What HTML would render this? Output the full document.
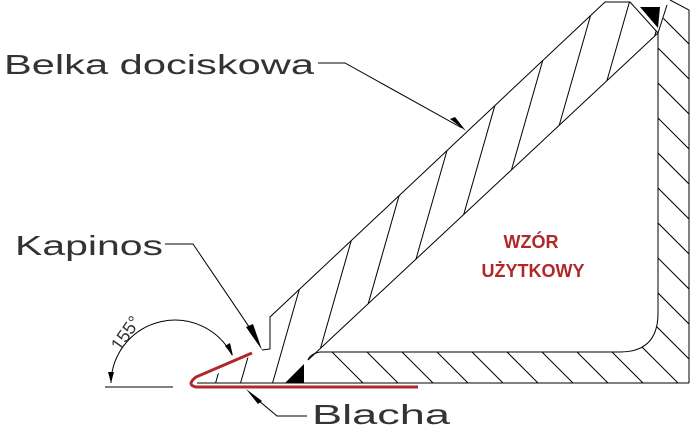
<!DOCTYPE html>
<html><head><style>
html,body{margin:0;padding:0;background:#fff;}
svg{display:block;}
text{font-family:"Liberation Sans",sans-serif;}
</style></head><body>
<svg width="690" height="426" viewBox="0 0 690 426" xmlns="http://www.w3.org/2000/svg">
<defs>
<clipPath id="beam"><polygon points="605,2 630,2 658,33 308,360 300,383 200,383 262,350 270,349 270,317"/></clipPath>
<clipPath id="ang"><path d="M658,33 L658,313 Q658,352 620,352 L320,352 Q310,354 308,360 L303,383 L689,383 L689,10 L670,0 Z"/></clipPath>
</defs>
<g stroke="#000" stroke-width="1" fill="none">
<g clip-path="url(#beam)">
<line x1="180" y1="420" x2="300" y2="0"/>
<line x1="205" y1="420" x2="325" y2="0"/>
<line x1="230" y1="420" x2="350" y2="0"/>
<line x1="262" y1="420" x2="382" y2="0"/>
<line x1="300" y1="420" x2="420" y2="0"/>
<line x1="335" y1="420" x2="455" y2="0"/>
<line x1="370" y1="420" x2="490" y2="0"/>
<line x1="405" y1="420" x2="525" y2="0"/>
<line x1="440" y1="420" x2="560" y2="0"/>
<line x1="475" y1="420" x2="595" y2="0"/>
<line x1="510" y1="420" x2="630" y2="0"/>
<line x1="545" y1="420" x2="665" y2="0"/>
<line x1="580" y1="420" x2="700" y2="0"/>
</g>
<g clip-path="url(#ang)">
<line x1="300" y1="320" x2="380" y2="400"/>
<line x1="335" y1="320" x2="415" y2="400"/>
<line x1="370" y1="320" x2="450" y2="400"/>
<line x1="405" y1="320" x2="485" y2="400"/>
<line x1="440" y1="320" x2="520" y2="400"/>
<line x1="475" y1="320" x2="555" y2="400"/>
<line x1="510" y1="320" x2="590" y2="400"/>
<line x1="545" y1="320" x2="625" y2="400"/>
<line x1="580" y1="320" x2="660" y2="400"/>
<line x1="615" y1="320" x2="695" y2="400"/>
<line x1="640" y1="310" x2="720" y2="390"/>
<line x1="640" y1="275" x2="720" y2="355"/>
<line x1="640" y1="240" x2="720" y2="320"/>
<line x1="640" y1="205" x2="720" y2="285"/>
<line x1="640" y1="170" x2="720" y2="250"/>
<line x1="640" y1="135" x2="720" y2="215"/>
<line x1="640" y1="100" x2="720" y2="180"/>
<line x1="640" y1="65" x2="720" y2="145"/>
<line x1="640" y1="30" x2="720" y2="110"/>
<line x1="640" y1="-5" x2="720" y2="75"/>
</g>
<polyline points="270,349 270,317 605,2 630,2 658,33 308,360"/>
<line x1="262" y1="350" x2="270" y2="349"/>
<path d="M658,33 L658,313 Q658,352 620,352 L320,352 Q310,354 308,360"/>
<line x1="197" y1="383" x2="689" y2="383"/>
<polyline points="689,383 689,10 670,0"/>
<line x1="658" y1="33" x2="667" y2="5"/>
<polyline points="318,63 345,63 462,128"/>
<polyline points="165,244 193,244 258,340"/>
<polyline points="307,416 277,416 252,395"/>
<line x1="105" y1="387" x2="173" y2="387"/>
<path d="M111,383 A64,64 0 0 1 232,355"/>
</g>
<polygon points="285,383 304,383 304,364" fill="#000"/>
<polygon points="640,7 660,7 658,28" fill="#000"/>
<polygon points="466,131 450,119 455,117" fill="#000"/>
<polygon points="262,350 246,327 253,324" fill="#000"/>
<polygon points="246,389 262,401 258,404" fill="#000"/>
<polygon points="111,383 108,372 114,372" fill="#000"/>
<polygon points="233,356 225,346 230,343" fill="#000"/>
<path d="M252,353 L196,377 Q186,385 196,387 L418,387" stroke="#b0282a" stroke-width="3" fill="none"/>
<g fill="#333" font-size="28">
<text x="4" y="74" textLength="310" lengthAdjust="spacingAndGlyphs">Belka dociskowa</text>
<text x="15" y="255" textLength="148" lengthAdjust="spacingAndGlyphs">Kapinos</text>
<text x="312" y="424" textLength="138" lengthAdjust="spacingAndGlyphs">Blacha</text>
<text x="0" y="0" font-size="18" transform="translate(120,352) rotate(-55)">155°</text>
</g>
<g fill="#b0282a" font-size="18" font-weight="bold" text-anchor="middle">
<text x="531" y="248">WZÓR</text>
<text x="533" y="277">UŻYTKOWY</text>
</g>
</svg>
</body></html>
